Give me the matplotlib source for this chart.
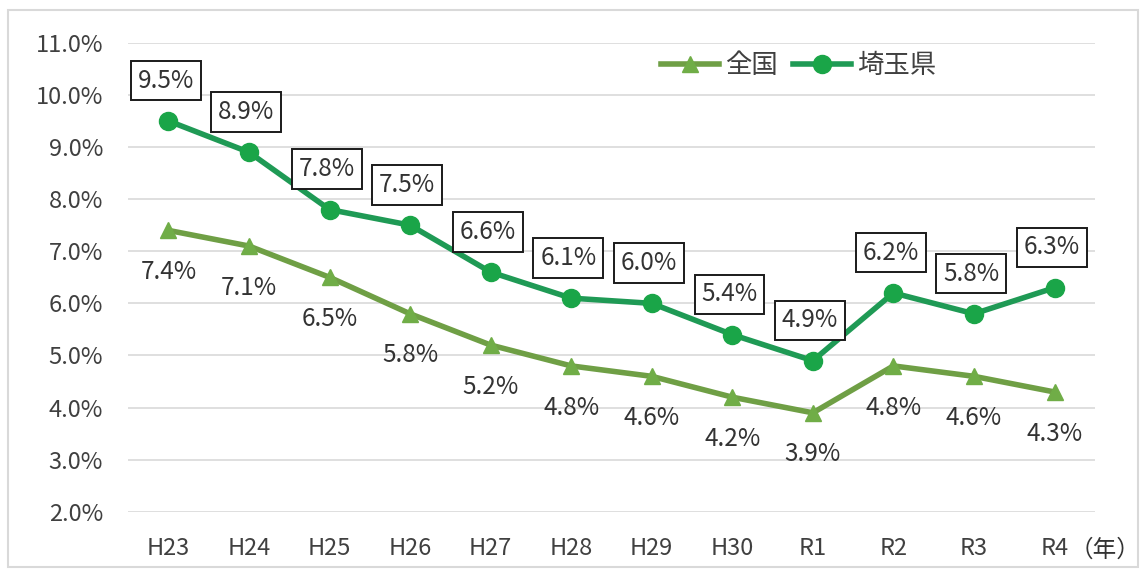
import matplotlib
matplotlib.use("Agg")
import matplotlib.pyplot as plt
from matplotlib.patches import Rectangle

plt.rcParams["font.family"] = ["Noto Sans CJK JP", "DejaVu Sans"]

years = ["H23", "H24", "H25", "H26", "H27", "H28", "H29", "H30", "R1", "R2", "R3", "R4"]
national = [7.4, 7.1, 6.5, 5.8, 5.2, 4.8, 4.6, 4.2, 3.9, 4.8, 4.6, 4.3]
saitama = [9.5, 8.9, 7.8, 7.5, 6.6, 6.1, 6.0, 5.4, 4.9, 6.2, 5.8, 6.3]
yticks = [2, 3, 4, 5, 6, 7, 8, 9, 10, 11]

fig = plt.figure(figsize=(11.44, 5.70), dpi=100)
fig.patches.append(Rectangle((0.007, 0.005), 0.988, 0.978, transform=fig.transFigure,
                             fill=False, edgecolor="#d9d9d9", linewidth=1.5))
ax = fig.add_axes([0.112, 0.102, 0.845, 0.823])

x = list(range(len(years)))
ax.plot(x, national, color="#6f9f45", linewidth=4, marker="^", markersize=12,
        markerfacecolor="#70ad47", markeredgecolor="#70ad47", label="全国", zorder=3)
ax.plot(x, saitama, color="#1f9a55", linewidth=4, marker="o", markersize=13,
        markerfacecolor="#1aa548", markeredgecolor="#1aa548", label="埼玉県", zorder=3)

# boxed labels above 埼玉県, plain labels below 全国
for xi, v in zip(x, saitama):
    ax.annotate(f"{v:.1f}%", (xi, v), xytext=(-2, 29), textcoords="offset points",
                ha="center", va="center", fontsize=17.5, color="#333333",
                bbox=dict(boxstyle="square,pad=0.28", facecolor="white",
                          edgecolor="#1a1a1a", linewidth=1.4), zorder=4)
for xi, v in zip(x, national):
    ax.annotate(f"{v:.1f}%", (xi, v), xytext=(0, -30), textcoords="offset points",
                ha="center", va="center", fontsize=17.5, color="#333333", zorder=4)

ax.set_xlim(-0.5, len(years) - 0.5)
ax.set_ylim(2, 11)
ax.set_yticks(yticks)
ax.set_yticklabels([f"{t:.1f}%" for t in yticks])
ax.set_xticks(x)
ax.set_xticklabels(years)
ax.tick_params(axis="both", length=0, labelsize=17, colors="#404040")
ax.tick_params(axis="x", pad=18)
ax.tick_params(axis="y", pad=18)
ax.grid(axis="y", color="#d9d9d9", linewidth=1.2)
ax.set_axisbelow(True)
for s in ax.spines.values():
    s.set_visible(False)

fig.text(0.997, 0.035, "（年）", ha="right", va="center", fontsize=17, color="#333333")

leg = ax.legend(loc="upper right", bbox_to_anchor=(0.86, 1.03), ncol=2, frameon=False,
                fontsize=19, handlelength=2.2, columnspacing=0.6, handletextpad=0.2)
for t in leg.get_texts():
    t.set_color("#404040")

fig.savefig("out.png", dpi=100)
